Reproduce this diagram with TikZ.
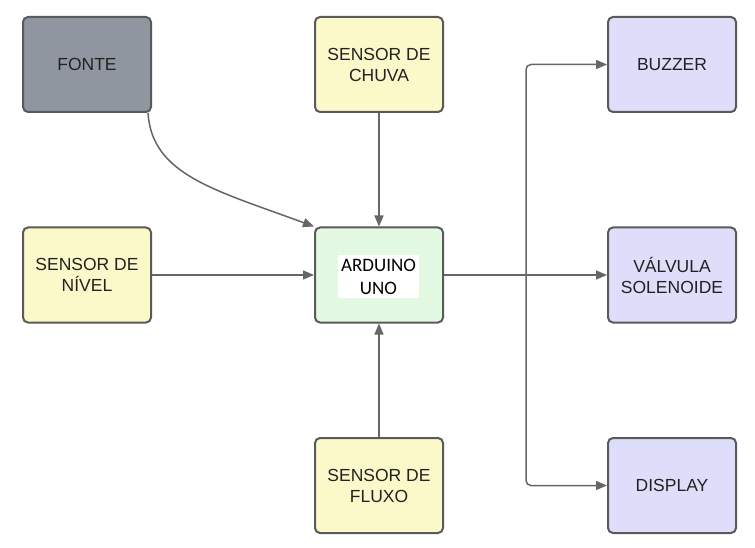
\documentclass[tikz,border=0pt]{standalone}
\usepackage{fontspec}
\setmainfont{Liberation Sans}
\newfontfamily\calib{Carlito}
\usetikzlibrary{arrows.meta}
\definecolor{bordc}{HTML}{5A5A5A}
\definecolor{arrc}{HTML}{666666}
\definecolor{grayf}{HTML}{8F96A0}
\definecolor{yelf}{HTML}{FBF9C9}
\definecolor{grnf}{HTML}{E3F9E1}
\definecolor{lavf}{HTML}{DEDEFA}
\definecolor{txtc}{HTML}{222222}
\tikzset{
  blk/.style={draw=bordc, line width=2pt, rounded corners=5pt, minimum width=128pt, minimum height=95pt, align=center, text=txtc, font=\fontsize{17.5}{21}\selectfont, inner sep=0pt},
  arr/.style={draw=arrc, line width=1.5pt, -{Triangle[length=11pt,width=9pt]}}
}
\begin{document}
\begin{tikzpicture}[x=1pt,y=-1pt]
\useasboundingbox[fill=white] (0,0) rectangle (755,548);
\node[blk, fill=grayf] (fonte) at (87,64.5) {FONTE};
\node[blk, fill=yelf] (chuva) at (379,64.5) {SENSOR DE\\CHUVA};
\node[blk, fill=yelf] (nivel) at (87,275) {SENSOR DE\\NÍVEL};
\node[blk, fill=grnf] (ard) at (379,275) {};
\node[fill=white, minimum width=81pt, minimum height=43pt, inner sep=0pt, align=center, font=\calib\fontsize{19}{23}\selectfont, text=black] (ardtxt) at (378.5,276.5) {ARDUINO\\UNO};
\node[blk, fill=yelf] (fluxo) at (379,485.5) {SENSOR DE\\FLUXO};
\node[blk, fill=lavf] (buz) at (672,64.5) {BUZZER};
\node[blk, fill=lavf] (val) at (672,275) {VÁLVULA\\SOLENOIDE};
\node[blk, fill=lavf] (dis) at (672,485.5) {DISPLAY};
\coordinate (j) at (526,275);
\draw[arr] ([xshift=-4pt]fonte.south east) .. controls (152,175) and (215,190) .. (ard.north west);
\draw[arr] (chuva) -- (ard);
\draw[arr] (nivel) -- (ard);
\draw[arr] (fluxo) -- (ard);
\draw[arr] (ard.east) -- (val.west);
\draw[arr, rounded corners=5pt] (j) |- (buz.west);
\draw[arr, rounded corners=5pt] (j) |- (dis.west);
\end{tikzpicture}
\end{document}
